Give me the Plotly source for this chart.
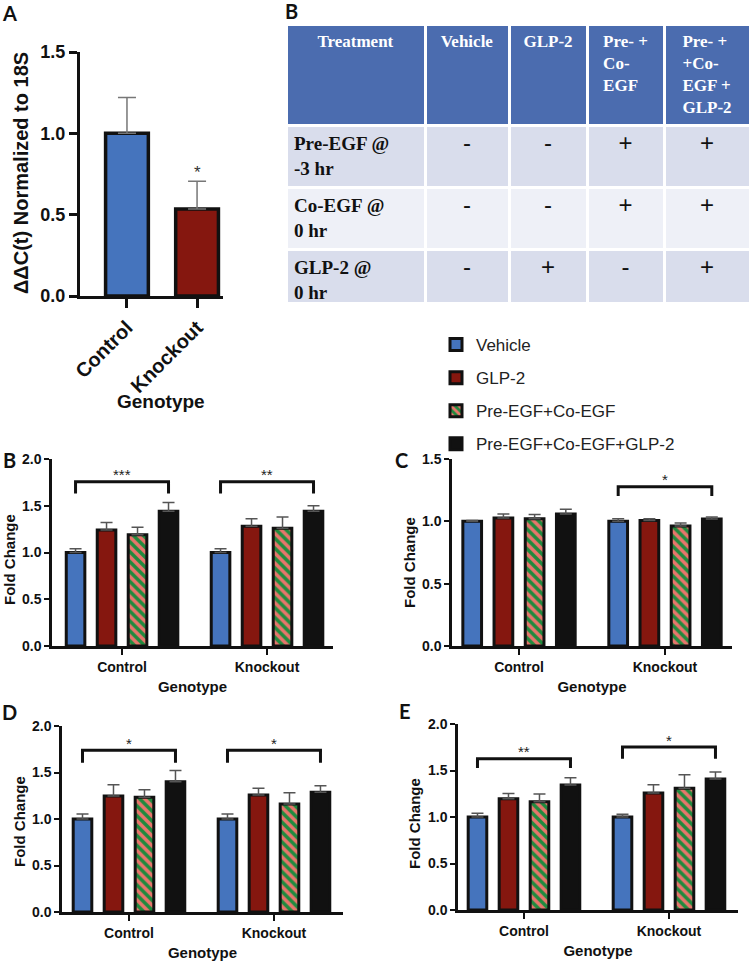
import plotly.graph_objects as go

# ---------------- data ----------------
genotypes = ["Control", "Knockout"]
treatments = ["Vehicle", "GLP-2", "Pre-EGF+Co-EGF", "Pre-EGF+Co-EGF+GLP-2"]

# Panel A
a_values = [1.0, 0.535]
a_errors = [0.22, 0.17]
a_stars = ["", "*"]

# Panels B-E, arranged [treatment][genotype]
b_values = [[1.00, 1.00], [1.24, 1.28], [1.19, 1.26], [1.44, 1.44]]
b_errors = [[0.04, 0.04], [0.08, 0.08], [0.08, 0.12], [0.095, 0.06]]
c_values = [[1.00, 1.00], [1.026, 1.007], [1.02, 0.962], [1.058, 1.018]]
c_errors = [[0.007, 0.02], [0.032, 0.013], [0.035, 0.024], [0.038, 0.016]]
d_values = [[1.00, 1.00], [1.247, 1.258], [1.233, 1.161], [1.40, 1.287]]
d_errors = [[0.055, 0.055], [0.12, 0.072], [0.082, 0.122], [0.122, 0.071]]
e_values = [[1.00, 1.00], [1.196, 1.257], [1.163, 1.31], [1.343, 1.408]]
e_errors = [[0.04, 0.03], [0.057, 0.089], [0.083, 0.144], [0.079, 0.075]]

# significance brackets per genotype: (bracket level, leg end, label)
b_brackets = [(1.757, 1.632, "***"), (1.757, 1.632, "**")]
c_brackets = [None, (1.278, 1.203, "*")]
d_brackets = [(1.738, 1.606, "*"), (1.738, 1.606, "*")]
e_brackets = [(1.627, 1.526, "**"), (1.752, 1.627, "*")]

# Table
table_header = ["Treatment", "Vehicle", "GLP-2", "Pre- +<br>Co-<br>EGF", "Pre- +<br>+Co-<br>EGF +<br>GLP-2"]
table_rows = ["Pre-EGF @<br>-3 hr", "Co-EGF @<br>0 hr", "GLP-2 @<br>0 hr"]
table_vehicle = ["-", "-", "-"]
table_glp2 = ["-", "-", "+"]
table_pre_co = ["+", "+", "-"]
table_all = ["+", "+", "+"]

# ---------------- style ----------------
W, H = 752, 963
BLACK = "#111111"
FILLS = ["#4574bd", "#85170f", "#1f8a3e", "#111111"]
STRIPE = "#e8766c"
SANS = "Liberation Sans"
LABEL_FONT = "Lato"
BARGAP, BARGROUPGAP = 0.145, 0.4

fig = go.Figure()
xidx = list(range(len(genotypes)))

# ---------------- Panel A ----------------
fig.add_trace(go.Bar(
    x=xidx, y=a_values, width=0.61,
    marker=dict(color=FILLS[:2], line=dict(color=BLACK, width=3.5)),
    error_y=dict(type="data", array=a_errors, arrayminus=[0] * len(a_errors), symmetric=False,
                 color="#777777", thickness=1.5, width=9),
    xaxis="x", yaxis="y", showlegend=False, hoverinfo="skip"))

annotations = []
for i, s in enumerate(a_stars):
    if s:
        annotations.append(dict(x=xidx[i], y=a_values[i] + a_errors[i], xref="x", yref="y", text=s,
                                showarrow=False, yanchor="middle", yshift=9,
                                font=dict(family=SANS, size=17, color="#333333")))

# ---------------- Panels B-E ----------------
panel_specs = [
    ("2", b_values, b_errors, b_brackets, [52 / W, 333 / W], [1 - 646 / H, 1 - 459 / H], [-0.483, 1.455], 2.0, True),
    ("3", c_values, c_errors, c_brackets, [452 / W, 732 / W], [1 - 646 / H, 1 - 459 / H], [-0.459, 1.459], 1.5, False),
    ("4", d_values, d_errors, d_brackets, [62 / W, 343 / W], [1 - 912 / H, 1 - 726 / H], [-0.462, 1.476], 2.0, False),
    ("5", e_values, e_errors, e_brackets, [458 / W, 738 / W], [1 - 910 / H, 1 - 724 / H], [-0.455, 1.476], 2.0, False),
]

slot = (1 - BARGAP) / len(treatments)
offsets = [-(1 - BARGAP) / 2 + slot * (k + 0.5) for k in range(len(treatments))]

layout_axes = {}
for n, vals, errs, brackets, xdom, ydom, xr, ymax, show_leg in panel_specs:
    for k, t in enumerate(treatments):
        pattern = dict(shape="\\", fgcolor=STRIPE, bgcolor=FILLS[2], size=7, solidity=0.5) if k == 2 else dict(shape="")
        fig.add_trace(go.Bar(
            x=xidx, y=vals[k], name=t, legendgroup=t, showlegend=show_leg,
            marker=dict(color=FILLS[k], line=dict(color=BLACK, width=3), pattern=pattern),
            error_y=dict(type="data", array=errs[k], arrayminus=[0] * len(errs[k]), symmetric=False,
                         color="#555555", thickness=1.5, width=6),
            xaxis="x" + n, yaxis="y" + n, hoverinfo="skip"))
    for g, br in enumerate(brackets):
        if br is None:
            continue
        level, leg, lab = br
        x0 = xidx[g] + offsets[0]
        x1 = xidx[g] + offsets[-1]
        fig.add_trace(go.Scatter(x=[x0, x0, x1, x1], y=[leg, level, level, leg], mode="lines",
                                 line=dict(color=BLACK, width=3), xaxis="x" + n, yaxis="y" + n,
                                 showlegend=False, hoverinfo="skip"))
        annotations.append(dict(x=(x0 + x1) / 2, y=level, xref="x" + n, yref="y" + n, text=lab,
                                showarrow=False, yanchor="middle", yshift=7,
                                font=dict(family=SANS, size=15, color="#222222")))
    layout_axes["xaxis" + n] = dict(
        domain=xdom, anchor="y" + n, range=xr, tickvals=xidx, ticktext=genotypes, automargin=False,
        showline=True, linecolor=BLACK, linewidth=2.5, ticks="outside", ticklen=6, tickwidth=2,
        tickcolor=BLACK, showgrid=False, zeroline=False,
        tickfont=dict(family=SANS, size=14, color=BLACK, weight="bold"),
        title=dict(text="Genotype", standoff=8, font=dict(family=SANS, size=15, color=BLACK, weight="bold")))
    layout_axes["yaxis" + n] = dict(
        domain=ydom, anchor="x" + n, range=[0, ymax], dtick=0.5, tickformat=".1f", automargin=False,
        showline=True, linecolor=BLACK, linewidth=2.5, ticks="outside", ticklen=5, tickwidth=2,
        tickcolor=BLACK, showgrid=False, zeroline=False,
        tickfont=dict(family=SANS, size=14, color=BLACK, weight="bold"))

# y titles
for txt, px, py, size in [("ΔΔC(t) Normalized to 18S", 21, 173, 20),
                          ("Fold Change", 9, 560, 15), ("Fold Change", 409, 563, 15),
                          ("Fold Change", 19, 822, 15), ("Fold Change", 414, 823, 15)]:
    annotations.append(dict(x=px / W, y=1 - py / H, xref="paper", yref="paper", text=txt, textangle=-90,
                            showarrow=False, xanchor="center", yanchor="middle",
                            font=dict(family=SANS, size=size, color=BLACK, weight="bold")))
# panel A x title
annotations.append(dict(x=161 / W, y=1 - 401 / H, xref="paper", yref="paper", text="Genotype",
                        showarrow=False, xanchor="center", yanchor="middle",
                        font=dict(family=SANS, size=19, color=BLACK, weight="bold")))
# panel letters
for txt, px, py in [("A", 9, 13), ("B", 291, 11), ("B", 9, 460), ("C", 401, 460), ("D", 9, 712), ("E", 405, 711)]:
    annotations.append(dict(x=px / W, y=1 - py / H, xref="paper", yref="paper", text=txt,
                            showarrow=False, xanchor="center", yanchor="middle",
                            font=dict(family=LABEL_FONT, size=20, color=BLACK, weight="bold")))

# ---------------- Table ----------------
row_fills = ["#d9ddec", "#eef0f7", "#d9ddec"]
fig.add_trace(go.Table(
    domain=dict(x=[286 / W, 750 / W], y=[1 - 303 / H, 1 - 24 / H]),
    columnwidth=[139, 84, 78, 77, 86],
    header=dict(values=[f"<b>{h}</b>" for h in table_header], fill_color="#4b6caf",
                line=dict(color="white", width=3), align="center", height=92,
                font=dict(family="Liberation Serif", size=17, color="white")),
    cells=dict(values=[[f"<b>{r}</b>" for r in table_rows], table_vehicle, table_glp2, table_pre_co, table_all],
               fill=dict(color=[row_fills] * 5), line=dict(color="white", width=3),
               align=["left", "center", "center", "center", "center"], height=62,
               font=dict(family=["Liberation Serif"] + [SANS] * 4, size=[19, 24, 24, 24, 24], color="#111111"))))

fig.update_layout(
    template="none",
    width=W, height=H, margin=dict(l=0, r=0, t=0, b=0, autoexpand=False),
    paper_bgcolor="white", plot_bgcolor="white",
    barmode="group", bargap=BARGAP, bargroupgap=BARGROUPGAP,
    xaxis=dict(domain=[80 / W, 223 / W], anchor="y", range=[-0.67, 1.37], tickvals=xidx, ticktext=genotypes,
               tickangle=-45, showline=True, linecolor=BLACK, linewidth=3, ticks="outside", ticklen=9,
               tickwidth=2.5, tickcolor=BLACK, showgrid=False, zeroline=False, automargin=False,
               tickfont=dict(family=SANS, size=20, color=BLACK, weight="bold")),
    yaxis=dict(domain=[1 - 296 / H, 1 - 52 / H], anchor="x", range=[0, 1.5], dtick=0.5, tickformat=".1f",
               showline=True, linecolor=BLACK, linewidth=3, ticks="outside", ticklen=8, tickwidth=2.5,
               tickcolor=BLACK, showgrid=False, zeroline=False, automargin=False,
               tickfont=dict(family=SANS, size=18, color=BLACK, weight="bold")),
    legend=dict(x=436 / W, y=1 - 327 / H, xanchor="left", yanchor="top", traceorder="grouped",
                tracegroupgap=8, itemwidth=30, bgcolor="rgba(0,0,0,0)",
                font=dict(family=SANS, size=17, color="#222222")),
    annotations=annotations,
    **layout_axes)

fig.write_html("out.html", config={"displayModeBar": False},
               post_script="document.body.style.margin='0';document.body.style.padding='0';")
